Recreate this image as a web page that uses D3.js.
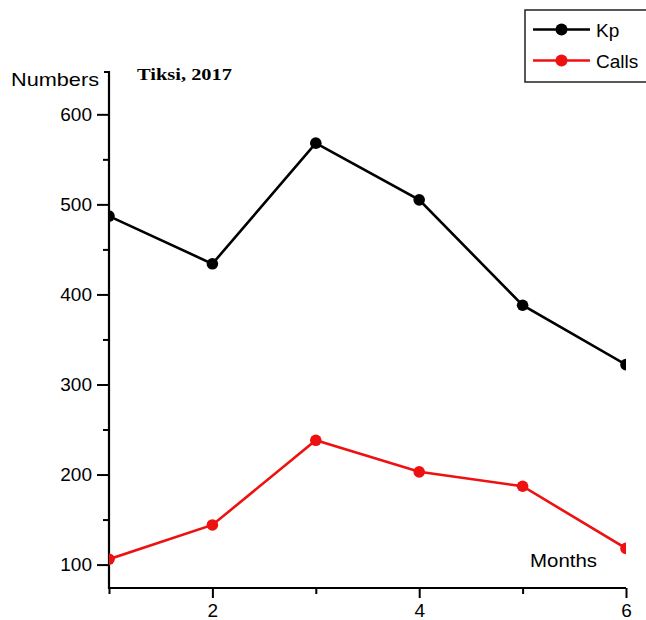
<!DOCTYPE html>
<html>
<head>
<meta charset="utf-8">
<script src="https://cdn.jsdelivr.net/npm/d3@7"></script>
<style>
  html, body { margin: 0; padding: 0; background: #fff; }
  svg { display: block; }
</style>
</head>
<body>
<svg id="chart" width="646" height="620" font-family="'Liberation Sans', Arial, sans-serif"></svg>
<script>
const months = [1, 2, 3, 4, 5, 6];
const kpValues = [487, 434, 568, 505, 388, 322];
const callsValues = [106, 144, 238, 203, 187, 118];
const xTickLabels = [2, 4, 6];
const xMinorTicks = [1, 3, 5];
const yTickLabels = [100, 200, 300, 400, 500, 600];
const yMinorTicks = [150, 250, 350, 450, 550];
const seriesNames = ["Kp", "Calls"];
const seriesColors = ["#000000", "#ee1111"];

const svg = d3.select("#chart");
const pLeft = 109, pRight = 626, pTop = 72, pBottom = 588;

const x = d3.scaleLinear().domain([1, 6]).range([pLeft, pRight]);
const y = d3.scaleLinear().domain([74, 647]).range([pBottom, pTop]);

// clip
svg.append("defs").append("clipPath").attr("id", "plotclip")
  .append("rect").attr("x", pLeft).attr("y", pTop).attr("width", pRight - pLeft).attr("height", pBottom - pTop);

const sans = "'Liberation Sans', Arial, sans-serif";

// Y axis
const yAxis = svg.append("g").attr("transform", `translate(${pLeft},0)`)
  .call(d3.axisLeft(y).tickValues(yTickLabels).tickSize(12).tickPadding(5).tickFormat(d3.format("d")));
yAxis.select(".domain").remove();
yAxis.selectAll(".tick line").attr("stroke", "#000").attr("stroke-width", 2);
yAxis.selectAll(".tick text").attr("font-size", 19).attr("fill", "#000").attr("font-family", sans);
const yMinor = svg.append("g").attr("transform", `translate(${pLeft},0)`)
  .call(d3.axisLeft(y).tickValues(yMinorTicks).tickSize(6).tickFormat(""));
yMinor.select(".domain").remove();
yMinor.selectAll(".tick line").attr("stroke", "#000").attr("stroke-width", 2);

// X axis
const xAxis = svg.append("g").attr("transform", `translate(0,${pBottom})`)
  .call(d3.axisBottom(x).tickValues(xTickLabels).tickSize(10).tickPadding(6).tickFormat(d3.format("d")));
xAxis.select(".domain").remove();
xAxis.selectAll(".tick line").attr("stroke", "#000").attr("stroke-width", 2);
xAxis.selectAll(".tick text").attr("font-size", 19).attr("fill", "#000").attr("font-family", sans);
const xMinor = svg.append("g").attr("transform", `translate(0,${pBottom})`)
  .call(d3.axisBottom(x).tickValues(xMinorTicks).tickSize(6).tickFormat(""));
xMinor.select(".domain").remove();
xMinor.selectAll(".tick line").attr("stroke", "#000").attr("stroke-width", 2);

// axis lines
svg.append("path")
  .attr("d", `M${pLeft - 5},${pTop} H${pLeft} V${pBottom} H${pRight}`)
  .attr("fill", "none").attr("stroke", "#000").attr("stroke-width", 2.2);

// series
const series = [kpValues, callsValues];
const plot = svg.append("g").attr("clip-path", "url(#plotclip)");
const line = d3.line().x((d, i) => x(months[i])).y(d => y(d));
series.forEach((vals, si) => {
  plot.append("path").datum(vals).attr("d", line)
    .attr("fill", "none").attr("stroke", seriesColors[si]).attr("stroke-width", 2.6);
  plot.selectAll(null).data(vals).enter().append("circle")
    .attr("cx", (d, i) => x(months[i])).attr("cy", d => y(d)).attr("r", 5.8)
    .attr("fill", seriesColors[si]);
});

// labels
svg.append("text").attr("x", 11).attr("y", 86).attr("font-size", 19).attr("font-family", sans)
  .attr("textLength", 88).attr("lengthAdjust", "spacingAndGlyphs").text("Numbers");
svg.append("text").attr("x", 137).attr("y", 80).attr("font-size", 16).attr("font-weight", "bold")
  .attr("font-family", "'Liberation Serif', 'DejaVu Serif', serif")
  .attr("textLength", 95).attr("lengthAdjust", "spacingAndGlyphs").text("Tiksi, 2017");
svg.append("text").attr("x", 530).attr("y", 567).attr("font-size", 19).attr("font-family", sans)
  .attr("textLength", 67).attr("lengthAdjust", "spacingAndGlyphs").text("Months");

// legend
const lg = svg.append("g");
lg.append("rect").attr("x", 525).attr("y", 10).attr("width", 125).attr("height", 72)
  .attr("fill", "#fff").attr("stroke", "#222").attr("stroke-width", 1.5);
seriesNames.forEach((name, i) => {
  const ly = 29.5 + i * 31;
  lg.append("line").attr("x1", 533).attr("x2", 590).attr("y1", ly).attr("y2", ly)
    .attr("stroke", seriesColors[i]).attr("stroke-width", 2.6);
  lg.append("circle").attr("cx", 561.5).attr("cy", ly).attr("r", 6).attr("fill", seriesColors[i]);
  lg.append("text").attr("x", 596).attr("y", ly + 7).attr("font-size", 19).attr("font-family", sans).text(name);
});
</script>
</body>
</html>
